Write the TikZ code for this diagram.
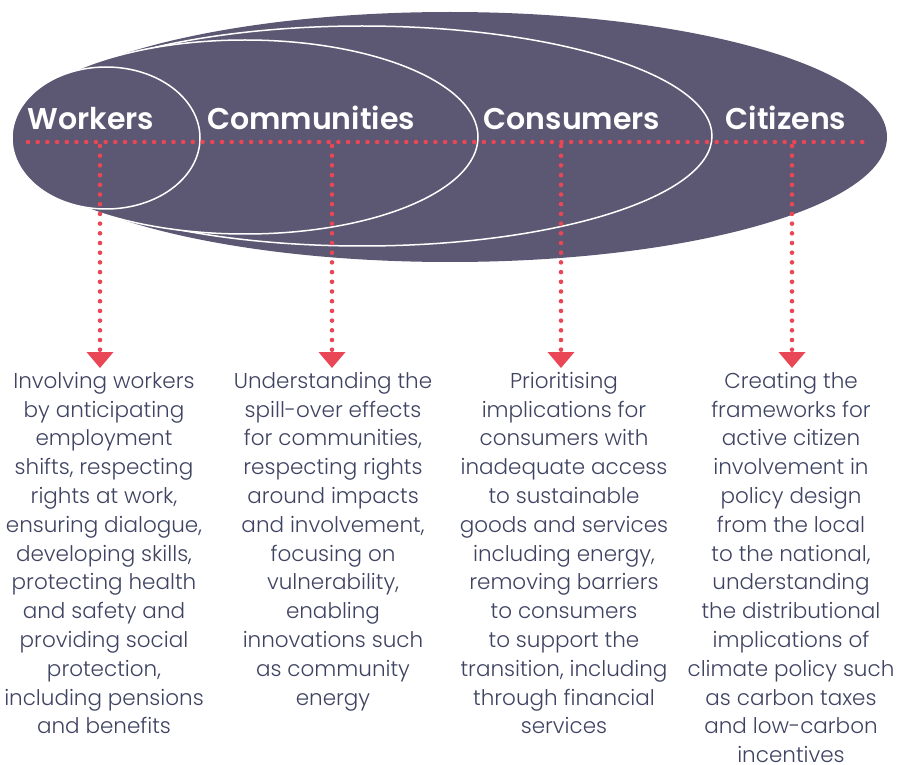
\documentclass[tikz,border=0pt]{standalone}
\usepackage{xcolor}
\usepackage{fontspec}
\setmainfont{Poppins}[UprightFont=* Light, BoldFont=* SemiBold]
\usepackage{tikz}
\usetikzlibrary{arrows.meta,positioning}

\definecolor{ovalfill}{HTML}{5C5873}
\definecolor{dotred}{HTML}{E94656}
\definecolor{bodytext}{HTML}{3E4361}

\begin{document}
\begin{tikzpicture}[x=1pt, y=-1pt]
\tikzset{RingStyle/.style = {fill=ovalfill, draw=white, line width=1.5pt}}
\tikzset{GroupStyle/.style = {text=white, font=\fontsize{30}{30}\selectfont\bfseries, anchor=base, inner sep=0pt}}
\tikzset{DescStyle/.style = {text=bodytext, font=\fontsize{21.5}{28.8}\selectfont, align=center, anchor=north, inner sep=0pt}}
\tikzset{DotStyle/.style = {draw=dotred, line width=4.6pt, line cap=round, dash pattern=on 0pt off 9.7pt}}
\tikzset{DotArrow/.style = {DotStyle, shorten >=4pt, -{Triangle[width=27pt, length=16pt, line width=0pt]}}}
	\useasboundingbox (0,0) rectangle (898,765);

	\fill[ovalfill] (450,137) ellipse [x radius=437, y radius=125];
	\draw[RingStyle] (362,136) ellipse [x radius=350, y radius=110];
	\draw[RingStyle] (245,137) ellipse [x radius=233, y radius=97];
	\draw[RingStyle] (106,138) ellipse [x radius=94, y radius=71];

	\node[GroupStyle] (w0) at (91,130) {Workers};
	\node[GroupStyle] (c0) at (311,130) {Communities};
	\node[GroupStyle] (n0) at (572,130) {Consumers};
	\node[GroupStyle] (z0) at (786,130) {Citizens};

	\coordinate (hl) at (28,142);
	\coordinate (hr) at (866,142);
	\draw[DotStyle] (hl) -- (hr);

	\coordinate (w1) at (100,146);
	\coordinate (c1) at (332,146);
	\coordinate (n1) at (561,146);
	\coordinate (z1) at (792,146);

	\node[DescStyle] (w2) at (104,372) {Involving workers\\by anticipating\\employment\\shifts, respecting\\rights at work,\\ensuring dialogue,\\developing skills,\\protecting health\\and safety and\\providing social\\protection,\\including pensions\\and benefits};
	\node[DescStyle] (c2) at (333,372) {Understanding the\\spill-over effects\\for communities,\\respecting rights\\around impacts\\and involvement,\\focusing on\\vulnerability,\\enabling\\innovations such\\as community\\energy};
	\node[DescStyle] (n2) at (564,372) {Prioritising\\implications for\\consumers with\\inadequate access\\to sustainable\\goods and services\\including energy,\\removing barriers\\to consumers\\to support the\\transition, including\\through financial\\services};
	\node[DescStyle] (z2) at (791,372) {Creating the\\frameworks for\\active citizen\\involvement in\\policy design\\from the local\\to the national,\\understanding\\the distributional\\implications of\\climate policy such\\as carbon taxes\\and low-carbon\\incentives};

	\draw[DotArrow] (w1) -- (w1 |- w2.north);
	\draw[DotArrow] (c1) -- (c1 |- c2.north);
	\draw[DotArrow] (n1) -- (n1 |- n2.north);
	\draw[DotArrow] (z1) -- (z1 |- z2.north);
\end{tikzpicture}
\end{document}
